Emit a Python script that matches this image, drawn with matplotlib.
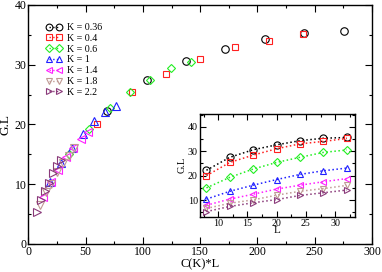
import numpy as np
import matplotlib
matplotlib.use('Agg')
import matplotlib.pyplot as plt
from matplotlib.lines import Line2D
from matplotlib.ticker import MultipleLocator

plt.rcParams['font.family'] = ['Liberation Serif', 'DejaVu Serif']
plt.rcParams['mathtext.fontset'] = 'stix'

# Data
L = np.array([8, 12, 16, 20, 24, 28, 32])
K_labels = ['K = 0.36', 'K = 0.4', 'K = 0.6', 'K = 1', 'K = 1.4', 'K = 1.8', 'K = 2.2']
C_of_K = [8.6, 7.5, 4.44, 2.4, 1.63, 1.25, 0.88]
GL = [
    [22.2, 27.5, 30.6, 32.6, 34.3, 35.3, 35.6],
    [20.0, 25.4, 28.4, 31.0, 33.0, 34.0, 35.2],
    [15.0, 19.3, 22.7, 25.4, 27.5, 29.5, 30.5],
    [10.4, 13.6, 16.1, 18.4, 20.5, 22.0, 23.1],
    [7.9, 10.4, 12.4, 14.5, 16.1, 17.5, 18.8],
    [6.6, 8.7, 10.1, 12.0, 13.6, 14.7, 16.0],
    [5.3, 7.4, 8.9, 10.2, 11.9, 13.0, 14.1],
]
colors = ['black', '#ff2020', '#22ee22', '#2020ff', '#ff20ff', '#c09a94', '#8a3a7a']
markers = ['o', 's', 'D', '^', '<', 'v', '>']
msizes = [5.4, 4.9, 4.2, 5.3, 5.3, 5.3, 5.3]

fig = plt.figure(figsize=(3.82, 2.72), dpi=100)
ax = fig.add_axes([0.0746, 0.103, 0.899, 0.879])

handles = []
for i in range(len(K_labels)):
    x = C_of_K[i] * L
    ax.plot(x, GL[i], linestyle='none', marker=markers[i], ms=msizes[i],
            mfc='none', mec=colors[i], mew=0.8)
    handles.append(Line2D([], [], linestyle=':', color=colors[i], lw=1.0,
                          marker=markers[i], ms=msizes[i] * 0.9, mfc='none',
                          mec=colors[i], mew=0.8))

ax.set_xlim(0, 300)
ax.set_ylim(0, 40)
ax.xaxis.set_major_locator(MultipleLocator(50))
ax.xaxis.set_minor_locator(MultipleLocator(25))
ax.yaxis.set_major_locator(MultipleLocator(10))
ax.yaxis.set_minor_locator(MultipleLocator(5))
ax.tick_params(which='both', direction='in', top=True, right=True, labelsize=8.5, pad=1.5)
ax.tick_params(which='major', length=5, width=0.8)
ax.tick_params(which='minor', length=2.5, width=0.8)
ax.set_xlabel('C(K)*L', fontsize=9, labelpad=0)
ax.set_ylabel('G.L', fontsize=9.5, labelpad=2)
for s in ax.spines.values():
    s.set_linewidth(1.0)

fig.legend(handles, K_labels, loc='upper left', bbox_to_anchor=(46 / 382, 1 - 23 / 272),
           frameon=False, fontsize=7.2, numpoints=2, handlelength=1.6,
           handletextpad=0.5, labelspacing=0.18, borderpad=0, borderaxespad=0)

# Inset
ins = fig.add_axes([0.5236, 0.2033, 0.4058, 0.3775])
for i in range(len(K_labels)):
    ins.plot(L, GL[i], linestyle=':', lw=1.1, color=colors[i], marker=markers[i],
             ms=msizes[i] * 0.95, mfc='none', mec=colors[i], mew=0.8)
ins.set_xlim(6.9, 33.4)
ins.set_ylim(3.2, 45.2)
ins.xaxis.set_major_locator(MultipleLocator(5))
ins.xaxis.set_minor_locator(MultipleLocator(2.5))
ins.yaxis.set_major_locator(MultipleLocator(10))
ins.yaxis.set_minor_locator(MultipleLocator(5))
ins.tick_params(which='both', direction='in', top=True, right=True, labelsize=7.2, pad=1.5)
ins.tick_params(which='major', length=4, width=0.8)
ins.tick_params(which='minor', length=2, width=0.8)
ins.set_xlabel('L', fontsize=8, labelpad=-1)
ins.set_ylabel('G.L', fontsize=7.5, labelpad=1)
for s in ins.spines.values():
    s.set_linewidth(1.0)

fig.savefig('out.png', dpi=100)
